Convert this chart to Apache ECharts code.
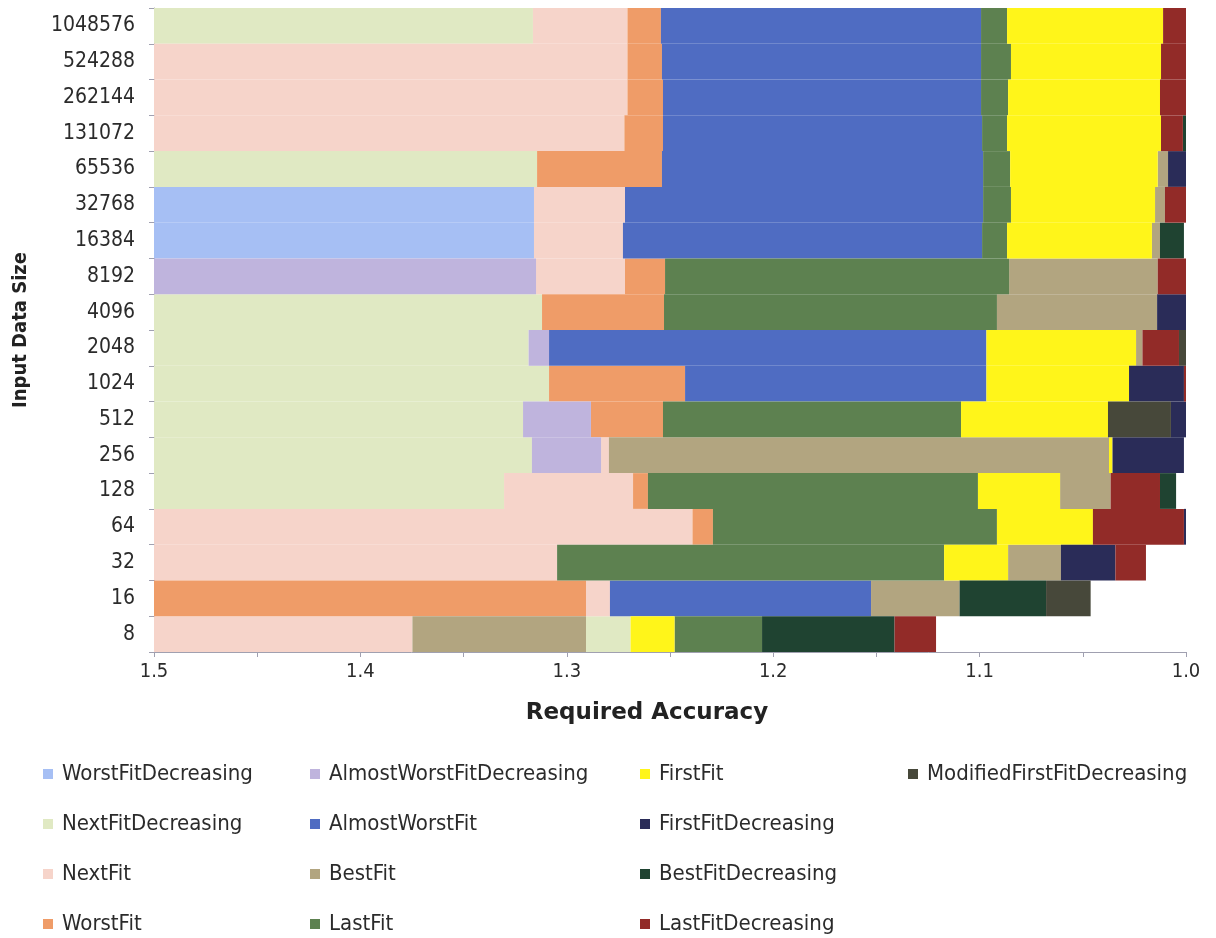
<!DOCTYPE html>
<html>
<head>
<meta charset="utf-8">
<script src="https://cdn.jsdelivr.net/npm/echarts@6/dist/echarts.min.js"></script>
<style>
  html, body { margin: 0; padding: 0; background: #ffffff; }
  #chart { width: 1216px; height: 938px; }
</style>
</head>
<body>
<div id="chart"></div>
<script>
// Input data sizes, bottom to top
const sizes = ['8', '16', '32', '64', '128', '256', '512', '1024', '2048', '4096',
  '8192', '16384', '32768', '65536', '131072', '262144', '524288', '1048576'];

// Algorithms in legend order (column by column)
const algorithms = [
  'WorstFitDecreasing', 'NextFitDecreasing', 'NextFit', 'WorstFit',
  'AlmostWorstFitDecreasing', 'AlmostWorstFit', 'BestFit', 'LastFit',
  'FirstFit', 'FirstFitDecreasing', 'BestFitDecreasing', 'LastFitDecreasing',
  'ModifiedFirstFitDecreasing'
];

const palette = [
  '#a6bff4', '#e0e9c3', '#f6d4ca', '#ef9c68',
  '#bfb4dd', '#4f6cc2', '#b2a580', '#5d8150',
  '#fff51a', '#2a2c58', '#1f4331', '#922b28',
  '#47483a'
];

// Each row: best algorithm per accuracy band, as [algorithm, band end].
// Bands run from 1.5 towards 1.0; each one starts where the previous one ended.
const row8 = [['NextFit', 1.3748], ['BestFit', 1.2907], ['NextFitDecreasing', 1.2691],
  ['FirstFit', 1.2478], ['LastFit', 1.2054], ['BestFitDecreasing', 1.1412], ['LastFitDecreasing', 1.1211]];
const row16 = [['WorstFit', 1.2907], ['NextFit', 1.2791], ['AlmostWorstFit', 1.1526],
  ['BestFit', 1.1097], ['BestFitDecreasing', 1.0678], ['ModifiedFirstFitDecreasing', 1.0462]];
const row32 = [['NextFit', 1.3047], ['LastFit', 1.1172], ['FirstFit', 1.0862],
  ['BestFit', 1.0606], ['FirstFitDecreasing', 1.0342], ['LastFitDecreasing', 1.0194]];
const row64 = [['NextFit', 1.2391], ['WorstFit', 1.2292], ['LastFit', 1.0916],
  ['FirstFit', 1.0451], ['LastFitDecreasing', 1.0010], ['FirstFitDecreasing', 1.0]];
const row128 = [['NextFitDecreasing', 1.3304], ['NextFit', 1.2679], ['WorstFit', 1.2607],
  ['LastFit', 1.1008], ['FirstFit', 1.0610], ['BestFit', 1.0365], ['LastFitDecreasing', 1.0126],
  ['BestFitDecreasing', 1.0048]];
const row256 = [['NextFitDecreasing', 1.3169], ['AlmostWorstFitDecreasing', 1.2834], ['NextFit', 1.2796],
  ['BestFit', 1.0373], ['FirstFit', 1.0356], ['FirstFitDecreasing', 1.0010]];
const row512 = [['NextFitDecreasing', 1.3212], ['AlmostWorstFitDecreasing', 1.2883], ['WorstFit', 1.2534],
  ['LastFit', 1.1090], ['FirstFit', 1.0378], ['ModifiedFirstFitDecreasing', 1.0073], ['FirstFitDecreasing', 1.0]];
const row1024 = [['NextFitDecreasing', 1.3086], ['WorstFit', 1.2427], ['AlmostWorstFit', 1.0967],
  ['FirstFit', 1.0276], ['FirstFitDecreasing', 1.0010], ['LastFitDecreasing', 1.0]];
const row2048 = [['NextFitDecreasing', 1.3185], ['AlmostWorstFitDecreasing', 1.3086], ['AlmostWorstFit', 1.0967],
  ['FirstFit', 1.0242], ['BestFit', 1.0211], ['LastFitDecreasing', 1.0034], ['ModifiedFirstFitDecreasing', 1.0]];
const row4096 = [['NextFitDecreasing', 1.3120], ['WorstFit', 1.2529], ['LastFit', 1.0916],
  ['BestFit', 1.0140], ['FirstFitDecreasing', 1.0]];
const row8192 = [['AlmostWorstFitDecreasing', 1.3149], ['NextFit', 1.2718], ['WorstFit', 1.2524],
  ['LastFit', 1.0857], ['BestFit', 1.0137], ['LastFitDecreasing', 1.0]];
const row16384 = [['WorstFitDecreasing', 1.3159], ['NextFit', 1.2728], ['AlmostWorstFit', 1.0988],
  ['LastFit', 1.0867], ['FirstFit', 1.0165], ['BestFit', 1.0126], ['BestFitDecreasing', 1.0010]];
const row32768 = [['WorstFitDecreasing', 1.3159], ['NextFit', 1.2718], ['AlmostWorstFit', 1.0983],
  ['LastFit', 1.0848], ['FirstFit', 1.0150], ['BestFit', 1.0102], ['LastFitDecreasing', 1.0]];
const row65536 = [['NextFitDecreasing', 1.3144], ['WorstFit', 1.2539], ['AlmostWorstFit', 1.0983],
  ['LastFit', 1.0852], ['FirstFit', 1.0137], ['BestFit', 1.0087], ['FirstFitDecreasing', 1.0]];
const row131072 = [['NextFit', 1.2721], ['WorstFit', 1.2534], ['AlmostWorstFit', 1.0988],
  ['LastFit', 1.0867], ['FirstFit', 1.0121], ['LastFitDecreasing', 1.0015], ['BestFitDecreasing', 1.0]];
const row262144 = [['NextFit', 1.2706], ['WorstFit', 1.2534], ['AlmostWorstFit', 1.0993],
  ['LastFit', 1.0862], ['FirstFit', 1.0126], ['LastFitDecreasing', 1.0]];
const row524288 = [['NextFit', 1.2706], ['WorstFit', 1.2539], ['AlmostWorstFit', 1.0993],
  ['LastFit', 1.0848], ['FirstFit', 1.0121], ['LastFitDecreasing', 1.0]];
const row1048576 = [['NextFitDecreasing', 1.3164], ['NextFit', 1.2706], ['WorstFit', 1.2544],
  ['AlmostWorstFit', 1.0993], ['LastFit', 1.0867], ['FirstFit', 1.0111], ['LastFitDecreasing', 1.0]];

const rows = [row8, row16, row32, row64, row128, row256, row512, row1024, row2048, row4096,
  row8192, row16384, row32768, row65536, row131072, row262144, row524288, row1048576];

const START = 1.5;
const FONT = "'DejaVu Sans Condensed', 'DejaVu Sans', sans-serif";

// Collect each algorithm's bands as [rowIndex, from, to]
const bands = {};
algorithms.forEach(a => { bands[a] = []; });
rows.forEach((row, r) => {
  let from = START;
  row.forEach(([algo, to]) => {
    bands[algo].push([r, from, to]);
    from = to;
  });
});

function renderBand(params, api) {
  const r = api.value(0);
  const a = api.coord([api.value(1), r]);
  const b = api.coord([api.value(2), r]);
  const h = api.size([0, 1])[1];
  return {
    type: 'rect',
    shape: {
      x: Math.min(a[0], b[0]),
      y: a[1] - h / 2,
      width: Math.abs(b[0] - a[0]),
      height: h
    },
    style: api.style()
  };
}

const series = algorithms.map((name, i) => ({
  name,
  type: 'custom',
  renderItem: renderBand,
  encode: { x: [1, 2], y: 0 },
  itemStyle: { color: palette[i] },
  data: bands[name]
}));

function legendColumn(names, left) {
  return {
    data: names.map(n => ({ name: n, icon: 'rect' })),
    orient: 'vertical',
    left,
    top: 757,
    height: 240,
    itemWidth: 10,
    itemHeight: 10,
    itemGap: 26,
    selectedMode: false,
    textStyle: {
      fontFamily: FONT,
      fontSize: 22,
      color: '#2b2b2b',
      lineHeight: 24,
      padding: [0, 0, 0, 4]
    }
  };
}

const chart = echarts.init(document.getElementById('chart'), null, { renderer: 'canvas' });
chart.setOption({
  animation: false,
  backgroundColor: '#ffffff',
  grid: { left: 154, right: 30, top: 8, bottom: 286, containLabel: false },
  xAxis: {
    type: 'value',
    min: 1.0,
    max: 1.5,
    interval: 0.05,
    inverse: true,
    name: 'Required Accuracy',
    nameLocation: 'middle',
    nameGap: 50,
    nameTextStyle: {
      fontFamily: "'DejaVu Sans', sans-serif", fontSize: 23, fontWeight: 'bold', color: '#222222',
      padding: [0, 46, 0, 0]
    },
    axisLine: { show: true, lineStyle: { color: '#a0a0b0', width: 1 } },
    axisTick: { show: true, length: 5, lineStyle: { color: '#a0a0b0' } },
    splitLine: { show: false },
    axisLabel: {
      fontFamily: FONT, fontSize: 20, color: '#2b2b2b', margin: 10,
      formatter: v => (Math.round(v * 20) % 2 === 0 ? v.toFixed(1) : '')
    }
  },
  yAxis: {
    type: 'category',
    data: sizes,
    name: 'Input Data Size',
    nameLocation: 'middle',
    nameGap: 123,
    nameRotate: 90,
    nameTextStyle: {
      fontFamily: FONT, fontSize: 20, fontWeight: 'bold', color: '#222222'
    },
    axisLine: { show: true, lineStyle: { color: '#a0a0b0', width: 1 } },
    axisTick: { show: true, length: 5, lineStyle: { color: '#a0a0b0' } },
    splitLine: { show: false },
    axisLabel: { fontFamily: FONT, fontSize: 21, color: '#2b2b2b', margin: 19 }
  },
  legend: [
    legendColumn(algorithms.slice(0, 4), 38),
    legendColumn(algorithms.slice(4, 8), 305),
    legendColumn(algorithms.slice(8, 12), 635),
    legendColumn(algorithms.slice(12), 903)
  ],
  series
});
</script>
</body>
</html>
